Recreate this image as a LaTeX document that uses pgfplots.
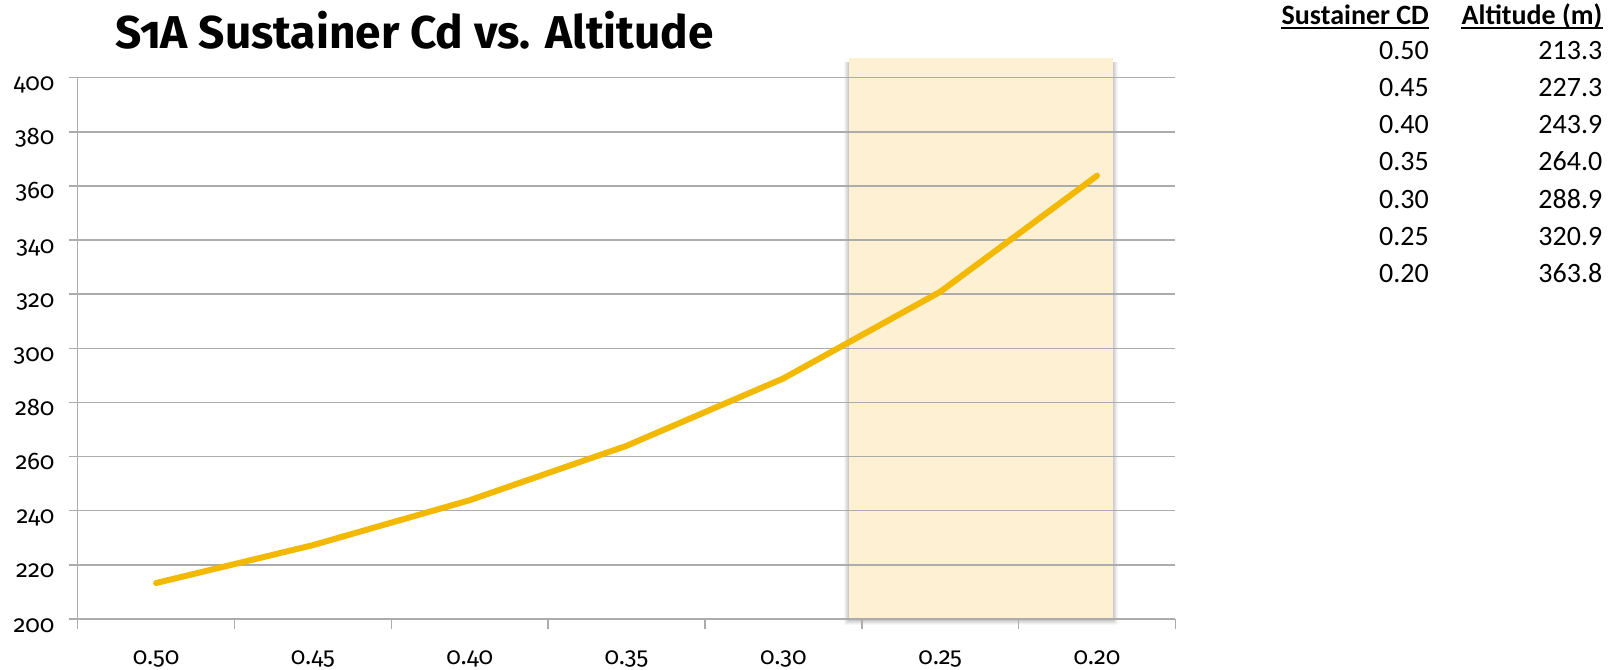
\documentclass[border=0pt]{standalone}
\usepackage{fontspec}
\setmainfont{Fira Sans}[Numbers=OldStyle]
\newfontfamily\tablefont{Carlito}
\usepackage{pgfplots}
\usepackage{pgfplotstable}
\pgfplotsset{compat=1.18}

\definecolor{cdline}{RGB}{243,185,0}
\definecolor{hilite}{RGB}{254,240,210}
\definecolor{gridgray}{RGB}{172,172,172}

% Sustainer drag coefficient against apogee altitude (m)
\pgfplotstableread{
idx cd   alt
0   0.50 213.3
1   0.45 227.3
2   0.40 243.9
3   0.35 264.0
4   0.30 288.9
5   0.25 320.9
6   0.20 363.8
}\cdtable

\pgfplotsset{
  cdframe/.style={
    at={(77.7bp,-619bp)}, anchor=south west,
    scale only axis, width=1097.8bp, height=541.3bp,
    clip=false,
    xmin=-0.5, xmax=6.5, ymin=200, ymax=400,
  },
}

\begin{document}
\begin{tikzpicture}
\path[use as bounding box] (0bp,0bp) rectangle (1615bp,-670bp);

\node[anchor=base, inner sep=0pt, font=\fontsize{46bp}{54bp}\selectfont\bfseries]
  at (414.5bp,-48.5bp) {S1A Sustainer Cd vs. Altitude};

% highlighted band for the lowest drag coefficients, with a soft shadow
\begin{axis}[cdframe, hide axis]
  \fill[black, opacity=0.05] ([xshift=-1bp,yshift=-2bp]axis cs:4.42,200) rectangle ([xshift=1bp,yshift=-4bp]axis cs:6.10,407.2);
  \fill[black, opacity=0.05] ([xshift=-2bp,yshift=-3bp]axis cs:4.42,200) rectangle ([xshift=2bp,yshift=-4bp]axis cs:6.10,407.2);
  \fill[black, opacity=0.05] ([xshift=-3bp,yshift=-4bp]axis cs:4.42,200) rectangle ([xshift=3bp,yshift=-4bp]axis cs:6.10,407.2);
  \fill[black, opacity=0.04] ([xshift=-4bp,yshift=-5bp]axis cs:4.42,200) rectangle ([xshift=4bp,yshift=-4bp]axis cs:6.10,407.2);
  \fill[black, opacity=0.03] ([xshift=-5bp,yshift=-6bp]axis cs:4.42,200) rectangle ([xshift=5bp,yshift=-4bp]axis cs:6.10,407.2);
  \fill[hilite] (axis cs:4.42,200) rectangle (axis cs:6.10,407.2);
\end{axis}

\begin{axis}[
  cdframe,
  axis x line*=bottom, axis y line*=left,
  axis line style={draw=gridgray, line width=1.5bp, -},
  xtick={0,...,6},
  xticklabels={0.50,0.45,0.40,0.35,0.30,0.25,0.20},
  minor xtick={-0.5,0.5,1.5,2.5,3.5,4.5,5.5,6.5},
  major x tick style={draw=none},
  ytick={200,220,...,400},
  tick align=outside,
  major tick length=9bp, minor tick length=10bp,
  tick style={draw=gridgray, line width=1.5bp},
  ymajorgrids,
  major grid style={draw=gridgray, line width=1.5bp},
  /pgf/number format/assume math mode=true,
  yticklabel style={anchor=base east, inner sep=0pt, xshift=-14bp, yshift=-13bp,
    font=\fontsize{24bp}{28bp}\selectfont},
  xticklabel style={anchor=base, inner sep=0pt, yshift=-36bp,
    font=\fontsize{24bp}{28bp}\selectfont},
]
\addplot[cdline, line width=6bp, line join=round, line cap=round]
  table[x=idx, y=alt] {\cdtable};
\end{axis}

% value table beside the chart
\begin{scope}[font=\fontsize{28bp}{34bp}\selectfont\tablefont]
  \node (h1) [anchor=base east, inner sep=0pt] at (1429bp,-24bp) {\bfseries Sustainer CD};
  \node (h2) [anchor=base east, inner sep=0pt] at (1602.5bp,-24bp) {\bfseries Altitude (m)};
  \draw[line width=2.5bp] ([yshift=-4bp]h1.base west) -- ([yshift=-4bp]h1.base east);
  \draw[line width=2.5bp] ([yshift=-4bp]h2.base west) -- ([yshift=-4bp]h2.base east);
  \foreach \cd/\alt [count=\i from 0] in
      {0.50/213.3,0.45/227.3,0.40/243.9,0.35/264.0,0.30/288.9,0.25/320.9,0.20/363.8} {
    \node[anchor=base east, inner sep=0pt] at (1429bp,{(-59-37.3*\i)*1bp}) {\cd};
    \node[anchor=base east, inner sep=0pt] at (1602.5bp,{(-59-37.3*\i)*1bp}) {\alt};
  }
\end{scope}
\end{tikzpicture}
\end{document}
